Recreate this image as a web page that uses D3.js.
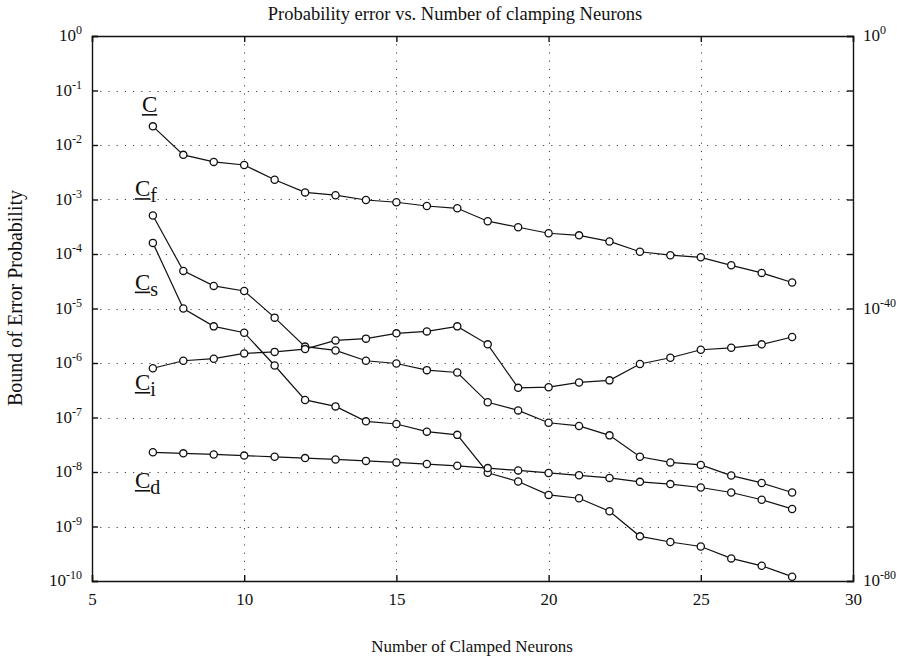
<!DOCTYPE html>
<html>
<head>
<meta charset="utf-8">
<script src="https://cdn.jsdelivr.net/npm/d3@7"></script>
<style>
  html, body { margin: 0; padding: 0; background: #fff; }
  svg { display: block; }
  text { font-family: "Liberation Serif", "DejaVu Serif", serif; fill: #111; }
</style>
</head>
<body>
<svg id="chart" width="906" height="659"></svg>
<script>
// Number of clamped neurons (shared x values)
const neurons = [7, 8, 9, 10, 11, 12, 13, 14, 15, 16, 17, 18, 19, 20, 21, 22, 23, 24, 25, 26, 27, 28];

// Bound of error probability for each clamping criterion
const seriesC  = [2.2e-2, 6.6e-3, 4.9e-3, 4.3e-3, 2.3e-3, 1.35e-3, 1.2e-3, 9.8e-4, 8.9e-4, 7.6e-4, 6.9e-4, 4.0e-4, 3.1e-4, 2.4e-4, 2.2e-4, 1.7e-4, 1.1e-4, 9.5e-5, 8.7e-5, 6.2e-5, 4.5e-5, 3.0e-5];
const seriesCf = [5.1e-4, 4.9e-5, 2.6e-5, 2.1e-5, 6.8e-6, 2.0e-6, 1.7e-6, 1.1e-6, 9.8e-7, 7.4e-7, 6.7e-7, 1.9e-7, 1.35e-7, 8.0e-8, 7.0e-8, 4.7e-8, 1.9e-8, 1.5e-8, 1.35e-8, 8.6e-9, 6.3e-9, 4.2e-9];
const seriesCs = [1.6e-4, 1.0e-5, 4.7e-6, 3.6e-6, 9.0e-7, 2.1e-7, 1.6e-7, 8.5e-8, 7.6e-8, 5.5e-8, 4.8e-8, 9.7e-9, 6.7e-9, 3.8e-9, 3.3e-9, 1.9e-9, 6.6e-10, 5.2e-10, 4.3e-10, 2.6e-10, 1.9e-10, 1.2e-10];
const seriesCi = [8.0e-7, 1.1e-6, 1.2e-6, 1.5e-6, 1.6e-6, 1.8e-6, 2.6e-6, 2.8e-6, 3.5e-6, 3.8e-6, 4.7e-6, 2.2e-6, 3.5e-7, 3.6e-7, 4.4e-7, 4.8e-7, 9.6e-7, 1.25e-6, 1.75e-6, 1.9e-6, 2.2e-6, 3.0e-6];
const seriesCd = [2.3e-8, 2.2e-8, 2.1e-8, 2.0e-8, 1.9e-8, 1.8e-8, 1.7e-8, 1.6e-8, 1.5e-8, 1.4e-8, 1.3e-8, 1.18e-8, 1.07e-8, 9.6e-9, 8.7e-9, 7.8e-9, 6.6e-9, 6.0e-9, 5.2e-9, 4.2e-9, 3.1e-9, 2.1e-9];

// Series names (main letter + subscript)
const seriesNames = [["C", ""], ["C", "f"], ["C", "s"], ["C", "i"], ["C", "d"]];

// Axis ticks
const xTickValues = [5, 10, 15, 20, 25, 30];
const leftExponents = [0, -1, -2, -3, -4, -5, -6, -7, -8, -9, -10];
const rightExponents = [0, -40, -80];

const titleText = "Probability error vs. Number of clamping Neurons";
const xTitle = "Number of Clamped Neurons";
const yTitle = "Bound of Error Probability";

// ---- layout ----
const W = 906, H = 659;
const plot = { left: 92, right: 853, top: 36, bottom: 581 };
// name label anchor offsets (pixels: left edge, baseline) relative to each series' first point
const labelOffsets = [[-11, -14], [-18, -19], [-18, 47], [-18, 22], [-18, 36]];

const svg = d3.select("#chart");

const x = d3.scaleLinear().domain([5, 30]).range([plot.left, plot.right]);
const y = d3.scaleLog().domain([1e-10, 1]).range([plot.bottom, plot.top]);
const yRight = d3.scaleLog().domain([1e-80, 1]).range([plot.bottom, plot.top]);

// dotted grid
const grid = svg.append("g").attr("stroke", "#444").attr("stroke-width", 1)
  .attr("stroke-dasharray", "1.2,7");
leftExponents.slice(1, -1).forEach(e => {
  const yy = Math.round(y(Math.pow(10, e))) + 0.5;
  grid.append("line").attr("x1", plot.left).attr("x2", plot.right).attr("y1", yy).attr("y2", yy);
});
xTickValues.slice(1, -1).forEach(v => {
  const xx = Math.round(x(v)) + 0.5;
  grid.append("line").attr("y1", plot.top).attr("y2", plot.bottom).attr("x1", xx).attr("x2", xx);
});

// axes (ticks drawn inward)
const tickLen = 6;
const bottomAxis = d3.axisBottom(x).tickValues(xTickValues).tickSize(-tickLen).tickPadding(12)
  .tickFormat(d3.format("d"));
const topAxis = d3.axisTop(x).tickValues(xTickValues).tickSize(-tickLen).tickFormat("");
const leftAxis = d3.axisLeft(y).tickValues(leftExponents.map(e => Math.pow(10, e))).tickSize(-tickLen)
  .tickFormat("");
const rightAxis = d3.axisRight(yRight)
  .tickValues(d3.range(0, -81, -8).map(e => Math.pow(10, e))).tickSize(-tickLen).tickFormat("");

function styleAxis(g) {
  g.select(".domain").attr("stroke", "#111").attr("stroke-width", 1.4);
  g.selectAll(".tick line").attr("stroke", "#111").attr("stroke-width", 1.4);
  g.selectAll(".tick text").attr("font-size", 17).attr("font-family", "Liberation Serif, serif").attr("fill", "#111");
}

svg.append("g").attr("transform", `translate(0,${plot.bottom})`).call(bottomAxis).call(styleAxis);
svg.append("g").attr("transform", `translate(0,${plot.top})`).call(topAxis).call(styleAxis);
svg.append("g").attr("transform", `translate(${plot.left},0)`).call(leftAxis).call(styleAxis);
svg.append("g").attr("transform", `translate(${plot.right},0)`).call(rightAxis).call(styleAxis);

// power-of-ten labels
function powerLabel(g, xpos, ypos, exp, anchor) {
  const t = g.append("text").attr("x", xpos).attr("y", ypos).attr("text-anchor", anchor)
    .attr("font-size", 17);
  t.append("tspan").text("10");
  t.append("tspan").attr("dy", -7).attr("font-size", 12).text(String(exp));
}
const labelsG = svg.append("g");
leftExponents.forEach(e => {
  powerLabel(labelsG, plot.left - 10, y(Math.pow(10, e)) + 5, e, "end");
});
rightExponents.forEach(e => {
  powerLabel(labelsG, plot.right + 10, yRight(Math.pow(10, e)) + 5, e, "start");
});

// titles
svg.append("text").attr("x", 455).attr("y", 20).attr("text-anchor", "middle")
  .attr("font-size", 18.5).text(titleText);
svg.append("text").attr("x", 472).attr("y", 652).attr("text-anchor", "middle")
  .attr("font-size", 17).text(xTitle);
svg.append("text").attr("transform", `translate(22,298) rotate(-90)`)
  .attr("text-anchor", "middle").attr("font-size", 20).text(yTitle);

// series lines and markers
const allSeries = [seriesC, seriesCf, seriesCs, seriesCi, seriesCd];
const line = d3.line().x(d => x(d[0])).y(d => y(d[1]));
allSeries.forEach((vals, i) => {
  const pts = neurons.map((n, k) => [n, vals[k]]);
  const g = svg.append("g");
  g.append("path").datum(pts).attr("d", line).attr("fill", "none")
    .attr("stroke", "#111").attr("stroke-width", 1.2);
  g.selectAll("circle").data(pts).join("circle")
    .attr("cx", d => x(d[0])).attr("cy", d => y(d[1])).attr("r", 3.6)
    .attr("fill", "#fff").attr("stroke", "#111").attr("stroke-width", 1.3);

  // series name, underlined, with subscript
  const lx = x(pts[0][0]) + labelOffsets[i][0];
  const ly = y(pts[0][1]) + labelOffsets[i][1];
  const t = g.append("text").attr("x", lx).attr("y", ly).attr("font-size", 23);
  const main = t.append("tspan").text(seriesNames[i][0]);
  if (seriesNames[i][1]) {
    t.append("tspan").attr("dy", 6).attr("font-size", 20).text(seriesNames[i][1]);
  }
  const w = main.node().getComputedTextLength();
  g.append("line").attr("x1", lx).attr("x2", lx + w)
    .attr("y1", ly + 2.5).attr("y2", ly + 2.5)
    .attr("stroke", "#111").attr("stroke-width", 1.6);
});
</script>
</body>
</html>
